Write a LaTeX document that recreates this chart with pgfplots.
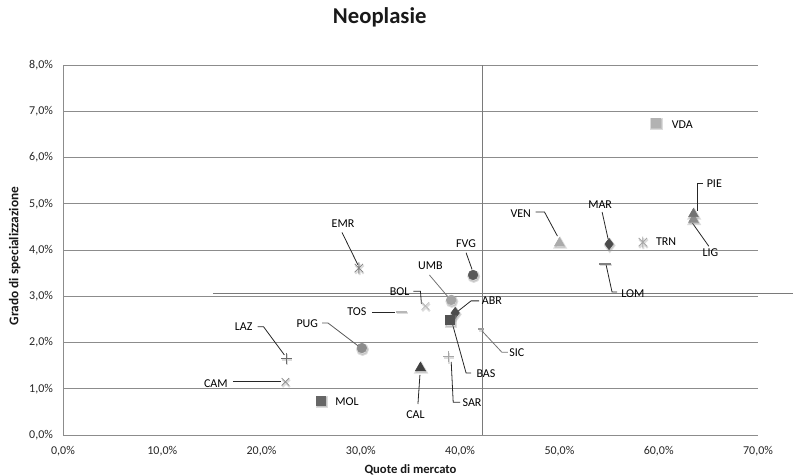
\documentclass[border=0pt]{standalone}
\usepackage{fontspec}
\setmainfont{Carlito}
\usepackage{pgfplots}
\pgfplotsset{compat=1.18}
\usetikzlibrary{plotmarks}

% star marker: a cross with a vertical bar through it
\pgfdeclareplotmark{xstar}{%
  \pgfpathmoveto{\pgfqpoint{-.75\pgfplotmarksize}{-.75\pgfplotmarksize}}%
  \pgfpathlineto{\pgfqpoint{.75\pgfplotmarksize}{.75\pgfplotmarksize}}%
  \pgfpathmoveto{\pgfqpoint{-.75\pgfplotmarksize}{.75\pgfplotmarksize}}%
  \pgfpathlineto{\pgfqpoint{.75\pgfplotmarksize}{-.75\pgfplotmarksize}}%
  \pgfpathmoveto{\pgfqpoint{0pt}{-\pgfplotmarksize}}%
  \pgfpathlineto{\pgfqpoint{0pt}{\pgfplotmarksize}}%
  \pgfusepathqstroke}

\definecolor{gridgray}{HTML}{8C8C8C}
\definecolor{refgray}{HTML}{7A7A7A}

\newcommand{\lbl}{\fontsize{9}{10}\selectfont}

% one region: soft shadow first, then the marker itself
% #1 mark, #2 mark size, #3 marker style, #4 shadow size, #5 x, #6 y
\newcommand{\region}[6]{%
  \addplot[mark=#1, mark size=#4,
    mark options={draw=black!45, fill=black!45, line width=1.5pt, opacity=0.3, xshift=0.5pt, yshift=-1.1pt}]
    coordinates {(#5,#6)};
  \addplot[mark=#1, mark size=#2, #3] coordinates {(#5,#6)};
}

\begin{document}
\begin{tikzpicture}
\begin{axis}[
  scale only axis,
  width=521.25pt, height=277.5pt,
  xmin=0, xmax=70, ymin=0, ymax=8,
  axis x line*=bottom, axis y line*=left,
  axis line style={draw=gridgray, line width=0.6pt},
  xtick={0,10,...,70}, ytick={0,1,...,8},
  xticklabels={{0,0\%},{10,0\%},{20,0\%},{30,0\%},{40,0\%},{50,0\%},{60,0\%},{70,0\%}},
  yticklabels={{0,0\%},{1,0\%},{2,0\%},{3,0\%},{4,0\%},{5,0\%},{6,0\%},{7,0\%},{8,0\%}},
  major tick length=0pt,
  tick label style={font=\fontsize{9}{10}\selectfont, text=black!85},
  xticklabel style={yshift=-5pt},
  yticklabel style={xshift=-4pt},
  ymajorgrids,
  grid style={draw=gridgray, line width=0.6pt},
  clip=false,
  only marks,
]
% reference lines: average market share and average specialisation
\draw[refgray, line width=0.6pt] (axis cs:42.2,0) -- (axis cs:42.2,8);
\draw[refgray, line width=0.6pt] (axis cs:15.1,3.07) -- (axis cs:73.5,3.07);

% regions: market share (%) and degree of specialisation (%)
\region{square*}{3.4pt}{draw=black!30, fill=black!30}{3.9pt}{59.7}{6.75}                 % VDA
\region{triangle*}{4.2pt}{draw=black!45, fill=black!45}{4.7pt}{63.5}{4.66}               % LIG
\region{triangle*}{4.2pt}{draw=black!55, fill=black!55}{4.7pt}{63.5}{4.78}               % PIE
\region{xstar}{4.2pt}{draw=black!35, line width=0.6pt}{4.2pt}{58.4}{4.17}                % TRN
\region{diamond*}{4.2pt}{draw=black!70, fill=black!70}{4.7pt}{55.0}{4.13}                % MAR
\region{triangle*}{4.2pt}{draw=black!33, fill=black!33}{4.7pt}{50.0}{4.15}               % VEN
\region{-}{4.5pt}{draw=black!50, line width=1.2pt}{4.5pt}{54.6}{3.70}                    % LOM
\region{*}{3.6pt}{draw=black!65, fill=black!65}{4.1pt}{41.3}{3.46}                       % FVG
\region{xstar}{4.2pt}{draw=black!50, line width=0.6pt}{4.2pt}{29.8}{3.61}                % EMR
\region{*}{3.6pt}{draw=black!36, fill=black!36}{4.1pt}{39.1}{2.92}                       % UMB
\region{x}{4pt}{draw=black!28, line width=0.6pt}{4pt}{36.5}{2.79}                        % BOL
\region{-}{4pt}{draw=black!28, line width=1.2pt}{4pt}{34.1}{2.66}                        % TOS
\region{diamond*}{4.2pt}{draw=black!70, fill=black!70}{4.7pt}{39.5}{2.64}                % ABR
\region{square*}{3.4pt}{draw=black!68, fill=black!68}{3.9pt}{39.0}{2.49}                 % BAS
\region{-}{2pt}{draw=black!38, line width=0.9pt}{2pt}{42.1}{2.29}                        % SIC
\region{*}{3.6pt}{draw=black!45, fill=black!45}{4.1pt}{30.1}{1.88}                       % PUG
\region{+}{4pt}{draw=black!58, line width=0.6pt}{4pt}{22.5}{1.66}                        % LAZ
\region{x}{4pt}{draw=black!45, line width=0.6pt}{4pt}{22.4}{1.15}                        % CAM
\region{square*}{3.4pt}{draw=black!60, fill=black!60}{3.9pt}{26.0}{0.74}                 % MOL
\region{triangle*}{4.4pt}{draw=black!75, fill=black!75}{4.9pt}{36.0}{1.45}               % CAL
\region{+}{4pt}{draw=black!35, line width=0.6pt}{4pt}{38.8}{1.69}                        % SAR

% data labels with leader lines
\begin{scope}[every node/.style={font=\lbl, text=black, inner sep=0pt}, leader/.style={draw=black!85, line width=0.6pt}]
\node[anchor=west] at (axis cs:61.3,6.70) {VDA};
\node at (axis cs:65.6,5.43) {PIE};
\draw[leader] (axis cs:64.45,5.45) -- (axis cs:63.85,5.45) -- (axis cs:63.85,4.85);
\node at (axis cs:65.2,3.94) {LIG};
\draw[leader] (axis cs:63.4,4.58) -- (axis cs:65.05,4.08);
\node[anchor=west] at (axis cs:59.7,4.17) {TRN};
\node at (axis cs:54.1,4.99) {MAR};
\draw[leader] (axis cs:54.3,4.82) -- (axis cs:54.9,4.24);
\node at (axis cs:46.1,4.78) {VEN};
\draw[leader] (axis cs:47.6,4.82) -- (axis cs:48.5,4.82) -- (axis cs:49.8,4.30);
\node at (axis cs:57.4,3.05) {LOM};
\draw[leader] (axis cs:54.7,3.68) -- (axis cs:55.3,3.09) -- (axis cs:55.8,3.09);
\node at (axis cs:28.2,4.58) {EMR};
\draw[leader] (axis cs:28.1,4.38) -- (axis cs:29.7,3.68);
\node at (axis cs:40.6,4.13) {FVG};
\draw[leader] (axis cs:40.6,3.94) -- (axis cs:41.2,3.58);
\node at (axis cs:37.0,3.65) {UMB};
\draw[leader, draw=black!55] (axis cs:36.9,3.46) -- (axis cs:38.8,2.98);
\node at (axis cs:33.9,3.11) {BOL};
\draw[leader] (axis cs:35.3,3.11) -- (axis cs:36.0,3.11) -- (axis cs:36.1,2.84);
\node at (axis cs:29.6,2.66) {TOS};
\draw[leader] (axis cs:31.1,2.66) -- (axis cs:33.4,2.66);
\node at (axis cs:43.2,2.90) {ABR};
\draw[leader] (axis cs:41.9,2.90) -- (axis cs:41.1,2.90) -- (axis cs:39.8,2.68);
\node at (axis cs:45.7,1.77) {SIC};
\draw[leader, draw=black!55] (axis cs:42.2,2.25) -- (axis cs:44.2,1.79) -- (axis cs:44.8,1.79);
\node at (axis cs:42.6,1.32) {BAS};
\draw[leader] (axis cs:39.2,2.42) -- (axis cs:40.6,1.34) -- (axis cs:41.1,1.34);
\node at (axis cs:41.2,0.69) {SAR};
\draw[leader] (axis cs:39.1,1.58) -- (axis cs:39.3,0.71) -- (axis cs:40.0,0.71);
\node at (axis cs:35.5,0.45) {CAL};
\draw[leader] (axis cs:35.75,0.67) -- (axis cs:35.95,1.30);
\node[anchor=west] at (axis cs:27.4,0.72) {MOL};
\node at (axis cs:15.4,1.12) {CAM};
\draw[leader] (axis cs:17.1,1.15) -- (axis cs:22.0,1.15);
\node at (axis cs:18.2,2.34) {LAZ};
\draw[leader] (axis cs:19.6,2.34) -- (axis cs:20.2,2.34) -- (axis cs:22.3,1.73);
\node at (axis cs:24.6,2.40) {PUG};
\draw[leader, draw=black!65] (axis cs:26.1,2.42) -- (axis cs:26.7,2.42) -- (axis cs:29.7,1.93);
\end{scope}

% title and axis titles
\node[font=\fontsize{17}{20}\selectfont\bfseries, text=black!90] at (axis cs:31.9,9.02) {Neoplasie};
\node[font=\fontsize{9.5}{11}\selectfont\bfseries, text=black!90] at (axis cs:35,-0.76) {Quote di mercato};
\node[font=\fontsize{10}{12}\selectfont\bfseries, text=black!90, rotate=90] at (axis cs:-4.85,3.87) {Grado di specializzazione};
\end{axis}
\pgfresetboundingbox
\path[use as bounding box] ([shift={(-47.25pt,-30pt)}]current axis.south west) rectangle ([shift={(26.25pt,48.75pt)}]current axis.north east);
\end{tikzpicture}
\end{document}
